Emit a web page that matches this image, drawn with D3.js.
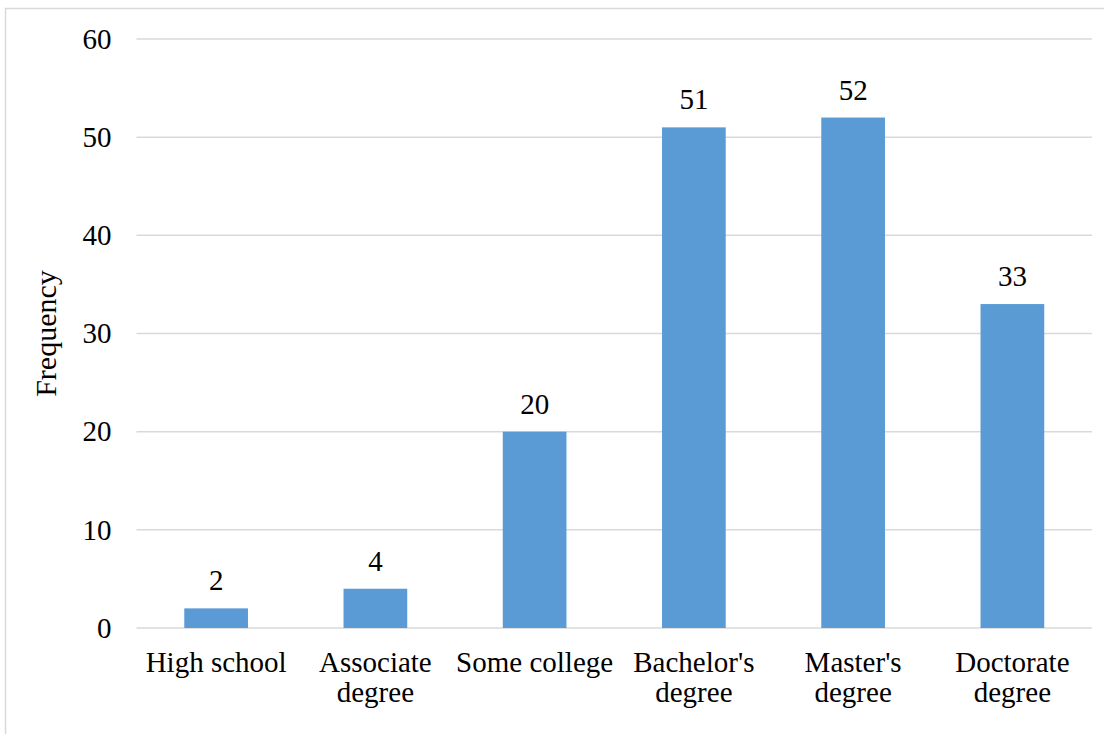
<!DOCTYPE html>
<html>
<head>
<meta charset="utf-8">
<script src="https://cdn.jsdelivr.net/npm/d3@7"></script>
<style>
  html, body { margin: 0; padding: 0; background: #fff; }
  svg { display: block; }
  svg text { font-family: "Liberation Serif", "Times New Roman", serif !important; fill: #000; }
</style>
</head>
<body>
<svg id="chart" width="1104" height="734" font-family="Liberation Serif, Times New Roman, serif"></svg>
<script>
// Education level vs. frequency
const categories = ["High school", "Associate degree", "Some college", "Bachelor's degree", "Master's degree", "Doctorate degree"];
const categoryLines = [["High school"], ["Associate", "degree"], ["Some college"], ["Bachelor's", "degree"], ["Master's", "degree"], ["Doctorate", "degree"]];
const frequencies = [2, 4, 20, 51, 52, 33];
const yTicks = [0, 10, 20, 30, 40, 50, 60];
const yTitle = "Frequency";

const W = 1104, H = 734;
const margin = { top: 39, right: 12, bottom: 106, left: 136.5 };
const FONT = "Liberation Serif, Times New Roman, serif";
const svg = d3.select("#chart");

// outer chart frame
svg.append("rect")
  .attr("x", 5.5).attr("y", 8.5)
  .attr("width", W + 20).attr("height", H + 20)
  .attr("fill", "none").attr("stroke", "#d9d9d9").attr("stroke-width", 1.5);

const x = d3.scaleBand()
  .domain(categories)
  .range([margin.left, W - margin.right])
  .paddingInner(0.6).paddingOuter(0.3);

const y = d3.scaleLinear()
  .domain([0, 60])
  .range([H - margin.bottom, margin.top]);

// horizontal gridlines
svg.append("g").selectAll("line")
  .data(yTicks)
  .join("line")
  .attr("x1", margin.left).attr("x2", W - margin.right)
  .attr("y1", d => y(d)).attr("y2", d => y(d))
  .attr("stroke", "#d9d9d9").attr("stroke-width", 1.5);

// y axis labels
const yAxis = d3.axisLeft(y).tickValues(yTicks).tickSize(0).tickPadding(25);
svg.append("g")
  .attr("transform", `translate(${margin.left},0)`)
  .call(yAxis)
  .attr("font-family", FONT)
  .attr("font-size", 29)
  .call(g => g.select(".domain").remove())
  .selectAll("text")
  .attr("fill", "#000");

// bars
svg.append("g").selectAll("rect")
  .data(frequencies)
  .join("rect")
  .attr("x", (d, i) => x(categories[i]))
  .attr("width", x.bandwidth())
  .attr("y", d => y(d))
  .attr("height", d => y(0) - y(d))
  .attr("fill", "#5b9bd5");

// value labels
svg.append("g")
  .attr("font-family", FONT)
  .attr("font-size", 29)
  .selectAll("text")
  .data(frequencies)
  .join("text")
  .attr("x", (d, i) => x(categories[i]) + x.bandwidth() / 2)
  .attr("y", d => y(d) - 18)
  .attr("text-anchor", "middle")
  .text(d => d);

// category labels
const catG = svg.append("g")
  .attr("font-family", FONT)
  .attr("font-size", 29)
  .selectAll("text")
  .data(categoryLines)
  .join("text")
  .attr("text-anchor", "middle")
  .attr("transform", (d, i) => `translate(${x(categories[i]) + x.bandwidth() / 2},${y(0) + 44})`);
catG.selectAll("tspan")
  .data(d => d)
  .join("tspan")
  .attr("x", 0)
  .attr("y", (d, j) => j * 30)
  .text(d => d);

// y axis title
svg.append("text")
  .attr("transform", `translate(56,${(y(0) + y(60)) / 2}) rotate(-90)`)
  .attr("text-anchor", "middle")
  .attr("font-family", FONT)
  .attr("font-size", 30)
  .text(yTitle);
</script>
</body>
</html>
